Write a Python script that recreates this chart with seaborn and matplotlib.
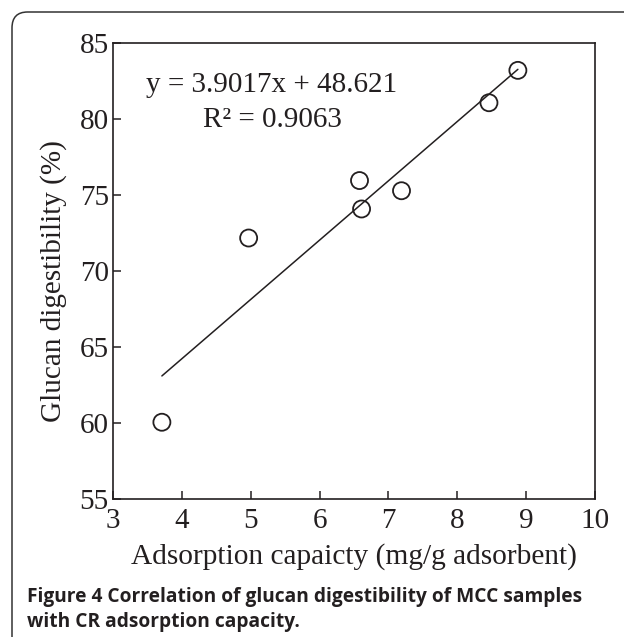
import numpy as np
import pandas as pd
import matplotlib
matplotlib.use("Agg")
import matplotlib.pyplot as plt
from matplotlib.patches import FancyBboxPatch
import seaborn as sns

# ---- data ----
adsorption = [3.71, 4.97, 6.58, 6.61, 7.19, 8.46, 8.88]
digestibility = [60.05, 72.17, 75.95, 74.08, 75.28, 81.07, 83.2]
slope = 3.9017
intercept = 48.621
r_squared = 0.9063
x_ticks = [3, 4, 5, 6, 7, 8, 9, 10]
y_ticks = [55, 60, 65, 70, 75, 80, 85]
x_label = "Adsorption capaicty (mg/g adsorbent)"
y_label = "Glucan digestibility (%)"
caption_bold = "Figure 4"
caption_rest = "Correlation of glucan digestibility of MCC samples\nwith CR adsorption capacity."

sns.set_theme(style="white")
plt.rcParams["font.family"] = ["Liberation Serif", "DejaVu Serif"]
ink = "#231f20"

W, H = 624, 637
fig = plt.figure(figsize=(W / 100, H / 100), dpi=100)

# rounded frame around the figure
frame = FancyBboxPatch((12 / W, -40 / H), 700 / W, (H - 12 + 40) / H,
                       boxstyle="round,pad=0,rounding_size=0.025",
                       transform=fig.transFigure, fill=False,
                       edgecolor="#333333", linewidth=1.1, clip_on=False)
fig.patches.append(frame)

ax = fig.add_axes([113 / W, (H - 499) / H, (595 - 113) / W, (499 - 43) / H])

df = pd.DataFrame({"x": adsorption, "y": digestibility})
xs = np.array([min(adsorption), max(adsorption)])
fit = pd.DataFrame({"x": xs, "y": slope * xs + intercept})

sns.lineplot(data=fit, x="x", y="y", ax=ax, color=ink, linewidth=1.1)
sns.scatterplot(data=df, x="x", y="y", ax=ax, s=150, marker="o",
                facecolors="none", edgecolors=ink, linewidth=1.3, zorder=3)

ax.set_xlim(3, 10)
ax.set_ylim(55, 85)
ax.set_xticks(x_ticks)
ax.set_yticks(y_ticks)
ax.set_xticklabels([str(t) for t in x_ticks])
ax.set_yticklabels([str(t) for t in y_ticks])
ax.tick_params(axis="both", which="both", direction="in", length=6, width=1.1,
               color=ink, labelsize=21, labelcolor=ink, bottom=True, left=True,
               top=False, right=False)
ax.tick_params(axis="x", pad=6.5)
ax.tick_params(axis="y", pad=3)
for sp in ax.spines.values():
    sp.set_visible(True)
    sp.set_color(ink)
    sp.set_linewidth(1.2)

ax.set_xlabel(x_label, fontsize=21.2, color=ink, labelpad=6.5)
ax.set_ylabel(y_label, fontsize=21, color=ink)
ax.yaxis.set_label_coords(-0.096, 0.478)

ax.text(5.31, 82.24, f"y = {slope}x + {intercept}", ha="center", va="center",
        fontsize=21, color=ink)
ax.text(5.31, 79.93, f"R² = {r_squared}", ha="center", va="center",
        fontsize=21, color=ink)

# caption
cap_font = ["Open Sans", "DejaVu Sans"]
fig.text(27 / W, 1 - 597 / H, caption_bold + " " + caption_rest.split("\n")[0],
         ha="left", va="center", fontsize=13.8, fontweight="bold",
         family=cap_font, color=ink)
fig.text(27 / W, 1 - 622 / H, caption_rest.split("\n")[1],
         ha="left", va="center", fontsize=13.8, fontweight="bold",
         family=cap_font, color=ink)

fig.savefig("out.png", dpi=100)
